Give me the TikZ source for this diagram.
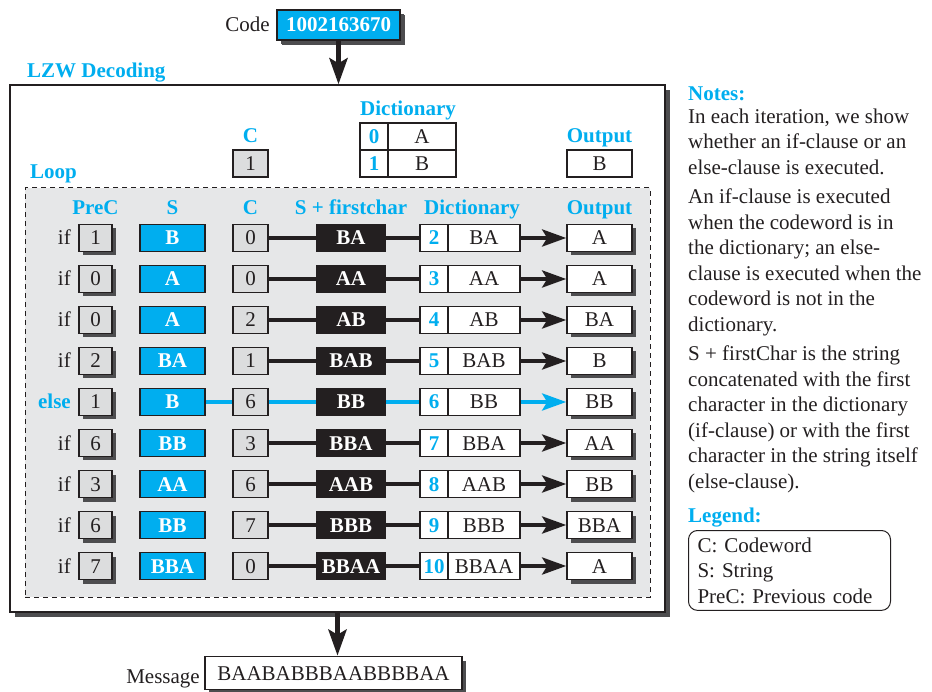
\documentclass[tikz,border=0pt]{standalone}
\usepackage{fontspec}
\setmainfont{Liberation Serif}
\usetikzlibrary{arrows.meta,positioning,shadows}
\definecolor{LzwBlue}{RGB}{0,174,239}
\definecolor{LzwText}{RGB}{35,31,32}
\definecolor{LzwGray}{RGB}{220,221,222}
\definecolor{LzwLoop}{RGB}{230,231,232}
\definecolor{LzwShadow}{RGB}{77,77,79}
\newcommand{\lzwsize}{\fontsize{21}{25}\selectfont}
\newcommand{\lzwnote}{\fontsize{21}{25.5}\selectfont}
\tikzset{
  lzw/cell/.style={
    draw=LzwText,
    line width=1.6pt,
    inner sep=0pt,
    minimum height=27pt,
    text height=14pt,
    text depth=0pt,
    text=LzwText,
    font=\lzwsize
  },
  lzw/shadow/.style={general shadow={fill=LzwShadow, shadow xshift=4pt, shadow yshift=-4pt}},
  lzw/prec/.style={lzw/cell, lzw/shadow, fill=LzwGray, minimum width=33pt},
  lzw/code/.style={lzw/cell, fill=LzwGray, minimum width=35pt},
  lzw/str/.style={lzw/cell, fill=LzwBlue, text=white, font=\lzwsize\bfseries, minimum width=65pt},
  lzw/sfc/.style={lzw/cell, fill=LzwText, text=white, font=\lzwsize\bfseries, minimum width=68pt},
  lzw/idx/.style={lzw/cell, fill=white, text=LzwBlue, font=\lzwsize\bfseries, minimum width=28pt},
  lzw/entry/.style={lzw/cell, fill=white, minimum width=72pt},
  lzw/out/.style={lzw/cell, fill=white, minimum width=65pt},
  lzw/head/.style={font=\lzwsize\bfseries, text=LzwBlue, inner sep=0pt, anchor=base},
  lzw/plain/.style={font=\lzwsize, text=LzwText, inner sep=0pt},
  lzw/cond-if/.style={lzw/plain, anchor=base east},
  lzw/cond-else/.style={lzw/head, anchor=base east},
  lzw/link-if/.style={line width=4pt, draw=LzwText},
  lzw/link-else/.style={line width=4pt, draw=LzwBlue},
  lzw/tip/.style={-{Stealth[length=24pt,width=17pt,inset=5pt]}},
  lzw/bigarrow/.style={line width=5pt, draw=LzwText, -{Stealth[length=26pt,width=18pt,inset=5pt]}},
  lzw/note/.style={font=\lzwnote, text=LzwText, align=left, inner sep=0pt, anchor=north west}
}

\begin{document}
\begin{tikzpicture}[x=1pt,y=-1pt]
  \useasboundingbox (0,0) rectangle (932,692);
  % input code
  \node[lzw/plain, anchor=base east] (codelabel) at (270,32) {Code};
  \node[lzw/cell, lzw/shadow, general shadow={fill=LzwShadow, shadow xshift=5pt, shadow yshift=-5pt},
        fill=LzwBlue, text=white, font=\lzwsize\bfseries, minimum width=123pt, minimum height=30pt] (code) at (338.5,25) {1002163670};
  % decoding frame
  \node[draw=LzwText, line width=1.4pt, fill=white, minimum width=655pt, minimum height=527pt,
        general shadow={fill=LzwShadow, shadow xshift=5pt, shadow yshift=-5pt}] (decoding) at (337.5,348.5) {};
  \node[lzw/head, anchor=base west] (lzwtitle) at (27,78) {LZW Decoding};
  \draw[lzw/bigarrow] (code.south) -- (code.south |- decoding.north);

  % initialisation
  \node[lzw/head] (c0head) at (250.5,143) {C};
  \node[lzw/code] (c0) at (250.5,163.5) {1};
  \node[lzw/head] (d0head) at (408,116) {Dictionary};
  \node[lzw/idx] (d0i) at (374,136.5) {0};
  \node[lzw/entry, minimum width=68pt] (d0s) at (422,136.5) {A};
  \node[lzw/idx] (d1i) at (374,163.5) {1};
  \node[lzw/entry, minimum width=68pt] (d1s) at (422,163.5) {B};
  \node[lzw/head] (o0head) at (599.5,143) {Output};
  \node[lzw/out] (o0) at (599.5,163.5) {B};

  % loop
  \node[lzw/head, anchor=base west] (looptitle) at (30,179) {Loop};
  \node[draw=LzwText, line width=1pt, dash pattern=on 5pt off 4pt, fill=LzwLoop,
        minimum width=625pt, minimum height=409pt] (loop) at (337.5,392.5) {};
  \node[lzw/head] at (95.5,215) {PreC};
  \node[lzw/head] at (172.5,215) {S};
  \node[lzw/head] at (250.5,215) {C};
  \node[lzw/head] at (351,215) {S + firstchar};
  \node[lzw/head] at (472,215) {Dictionary};
  \node[lzw/head] at (599.5,215) {Output};

  \foreach \cnd/\p/\s/\c/\f/\i/\e/\o [count=\k] in {
      if/1/B/0/BA/2/BA/A,
      if/0/A/0/AA/3/AA/A,
      if/0/A/2/AB/4/AB/BA,
      if/2/BA/1/BAB/5/BAB/B,
      else/1/B/6/BB/6/BB/BB,
      if/6/BB/3/BBA/7/BBA/AA,
      if/3/AA/6/AAB/8/AAB/BB,
      if/6/BB/7/BBB/9/BBB/BBA,
      if/7/BBA/0/BBAA/10/BBAA/A} {
    \pgfmathsetmacro{\y}{238+41*(\k-1)}
    \node[lzw/cond-\cnd] (cond\k) at (71,\y+7) {\cnd};
    \node[lzw/prec] (pc\k) at (95.5,\y) {\p};
    \node[lzw/str] (s\k) at (172.5,\y) {\s};
    \node[lzw/code] (c\k) at (250.5,\y) {\c};
    \node[lzw/sfc] (f\k) at (351,\y) {\f};
    \node[lzw/idx] (di\k) at (434,\y) {\i};
    \node[lzw/entry] (ds\k) at (484,\y) {\e};
    \node[lzw/out, lzw/shadow] (o\k) at (599.5,\y) {\o};
    \draw[lzw/link-\cnd] (c\k) -- (f\k);
    \draw[lzw/link-\cnd] (f\k) -- (di\k);
    \draw[lzw/link-\cnd, lzw/tip] (ds\k) -- (o\k);
  }
  \draw[lzw/link-else] (s5) -- (c5);

  % result
  \node[lzw/cell, lzw/shadow, fill=white, minimum width=257pt, minimum height=33pt] (msg) at (333.5,673) {BAABABBBAABBBBAA};
  \node[lzw/plain, anchor=base east] (msglabel) at (200,683) {Message};
  \draw[lzw/bigarrow] (decoding.south) -- (decoding.south |- msg.north);

  % notes
  \node[lzw/head, anchor=base west] (notes) at (688,101) {Notes:};
  \node[lzw/note] (note1) at (688,108.7) {In each iteration, we show\\whether an if-clause or an\\else-clause is executed.};
  \node[lzw/note] (note2) at (688,188.7) {An if-clause is executed\\when the codeword is in\\the dictionary; an else-\\clause is executed when the\\codeword is not in the\\dictionary.};
  \node[lzw/note] (note3) at (688,345.7) {S + firstChar is the string\\concatenated with the first\\character in the dictionary\\(if-clause) or with the first\\character in the string itself\\(else-clause).};
  \node[lzw/head, anchor=base west] (legend) at (688,522) {Legend:};
  \node[draw=LzwText, line width=1pt, rounded corners=9pt, anchor=north west, font=\lzwnote, text=LzwText,
        align=left, text width=184pt, inner xsep=9pt, inner ysep=7pt] (legendbox) at (688,530)
        {C: Codeword\\S: String\\PreC: Previous code};
\end{tikzpicture}
\end{document}
